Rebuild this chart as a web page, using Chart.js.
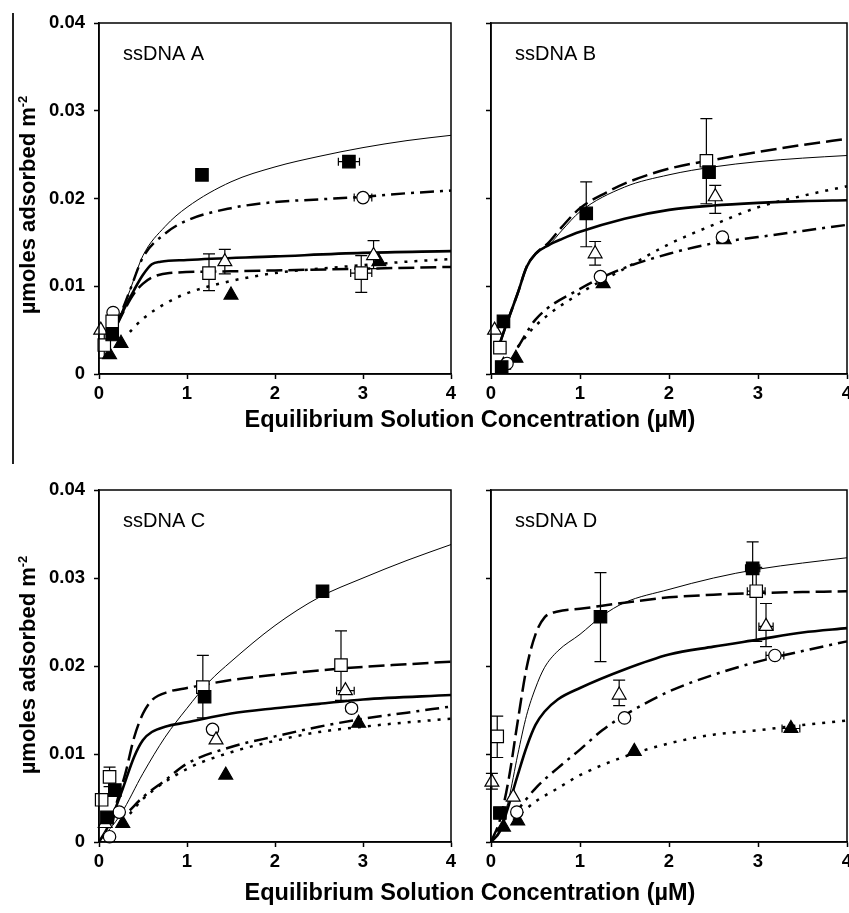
<!DOCTYPE html>
<html lang="en">
<head>
<meta charset="UTF-8">
<title>ssDNA adsorption isotherms</title>
<script src="https://cdn.jsdelivr.net/npm/chart.js"></script>
<style>
  html, body { margin: 0; padding: 0; background: #fff; overflow: hidden; }
  #page { position: relative; width: 849px; height: 913px; overflow: hidden;
          font-family: "Liberation Sans", Arial, sans-serif; color: #000; }
  canvas { position: absolute; }
  .xtitle { position: absolute; left: 0; width: 940px; text-align: center;
            font-weight: bold; font-size: 23.5px; line-height: 26px; }
  .ytitle { position: absolute; white-space: nowrap; font-weight: bold; font-size: 22px;
            transform: translate(-50%, -50%) rotate(-90deg); }
  .ytitle sup { font-size: 13px; }
  #edge { position: absolute; left: 12px; top: 13px; width: 1.5px; height: 451px; background: #222; }
</style>
</head>
<body>
<div id="page">
  <canvas id="chartA" width="470" height="450" style="left:0;top:0"></canvas>
  <canvas id="chartB" width="395" height="450" style="left:470px;top:0"></canvas>
  <canvas id="chartC" width="470" height="453" style="left:0;top:460px"></canvas>
  <canvas id="chartD" width="395" height="453" style="left:470px;top:460px"></canvas>
  <div id="edge"></div>
  <div class="ytitle" style="left:28px;top:205px">µmoles adsorbed m<sup>-2</sup></div>
  <div class="ytitle" style="left:28px;top:665px">µmoles adsorbed m<sup>-2</sup></div>
  <div class="xtitle" style="top:406px">Equilibrium Solution Concentration (µM)</div>
  <div class="xtitle" style="top:879px">Equilibrium Solution Concentration (µM)</div>
</div>
<script>
// ----- ssDNA A : measured points (lo/hi = y error, xe = x error) -----
const aFilledSq  = [{x:0.15,y:0.0045},{x:1.17,y:0.0227},{x:2.84,y:0.0242,xe:0.12}];
const aOpenSq    = [{x:0.06,y:0.0033,lo:0.0018,hi:0.0048},{x:0.15,y:0.0060},{x:1.25,y:0.0115,lo:0.0095,hi:0.0137},{x:2.98,y:0.0115,lo:0.0093,hi:0.0135,xe:0.12}];
const aOpenTri   = [{x:0.02,y:0.0050},{x:1.43,y:0.0128,lo:0.0114,hi:0.0142},{x:3.12,y:0.0135,lo:0.0120,hi:0.0152}];
const aFilledTri = [{x:0.12,y:0.0022},{x:0.25,y:0.0035},{x:1.5,y:0.0090},{x:3.18,y:0.0128}];
const aCircle    = [{x:0.16,y:0.0070},{x:3.0,y:0.0201,xe:0.1}];
// fitted curves
const aThin     = [[0.15,0.0045],[0.25,0.0069],[0.35,0.0095],[0.5,0.0135],[0.75,0.0168],[1,0.0190],[1.5,0.0219],[2,0.0236],[2.5,0.0248],[3,0.0258],[3.5,0.0266],[4,0.0272]];
const aThick    = [[0.15,0.0045],[0.3,0.0077],[0.4,0.0096],[0.5,0.0113],[0.6,0.0125],[0.7,0.0128],[1,0.0130],[2,0.0134],[3,0.0138],[4,0.0140]];
const aLongDash = [[0.2,0.0055],[0.3,0.0075],[0.4,0.0092],[0.5,0.0103],[0.6,0.0110],[0.8,0.0115],[1.5,0.0117],[2,0.0118],[3,0.0120],[4,0.0122]];
const aDashDot  = [[0.15,0.0045],[0.25,0.0069],[0.35,0.0095],[0.5,0.0133],[0.75,0.0160],[1,0.0175],[1.5,0.0189],[2,0.0196],[2.5,0.0199],[3,0.0202],[3.5,0.0206],[4,0.0209]];
const aDotted   = [[0.35,0.0048],[0.5,0.0063],[0.75,0.0080],[1,0.0092],[1.5,0.0106],[2,0.0115],[2.5,0.0120],[3,0.0124],[3.5,0.0128],[4,0.0131]];

// ----- ssDNA B -----
const bFilledSq  = [{x:0.14,y:0.0060},{x:0.12,y:0.0008},{x:1.07,y:0.0183,lo:0.0145,hi:0.0219},{x:2.45,y:0.0230}];
const bOpenSq    = [{x:0.1,y:0.0030},{x:2.42,y:0.0243,lo:0.0194,hi:0.0291}];
const bOpenTri   = [{x:0.04,y:0.0050},{x:1.17,y:0.0137,lo:0.0124,hi:0.0151},{x:2.52,y:0.0202,lo:0.0183,hi:0.0215}];
const bFilledTri = [{x:0.14,y:0.0010},{x:0.28,y:0.0018},{x:1.26,y:0.0103},{x:2.62,y:0.0153}];
const bCircle    = [{x:0.18,y:0.0012},{x:1.23,y:0.0111},{x:2.6,y:0.0156}];
const bThin     = [[0.1,0.0035],[0.15,0.0050],[0.3,0.0092],[0.4,0.0122],[0.5,0.0137],[0.65,0.0147],[0.8,0.0164],[1,0.0185],[1.5,0.0213],[2,0.0227],[2.5,0.0236],[3,0.0242],[3.5,0.0246],[4,0.0249]];
const bThick    = [[0.1,0.0035],[0.15,0.0050],[0.3,0.0092],[0.4,0.0122],[0.5,0.0137],[0.65,0.0147],[0.8,0.0154],[1,0.0162],[1.5,0.0177],[2,0.0187],[2.5,0.0192],[3,0.0195],[3.5,0.0197],[4,0.0198]];
const bLongDash = [[0.1,0.0035],[0.15,0.0050],[0.3,0.0092],[0.4,0.0122],[0.5,0.0137],[0.65,0.0150],[0.8,0.0168],[1,0.0189],[1.3,0.0207],[1.5,0.0217],[2,0.0234],[2.5,0.0244],[3,0.0253],[3.5,0.0261],[4,0.0268]];
const bDashDot  = [[0.3,0.0030],[0.5,0.0062],[1,0.0097],[1.5,0.0121],[2,0.0137],[2.5,0.0149],[3,0.0156],[3.5,0.0163],[4,0.0170]];
const bDotted   = [[0.3,0.0031],[0.5,0.0055],[1,0.0092],[1.5,0.0120],[2,0.0148],[2.5,0.0170],[3,0.0190],[3.5,0.0203],[4,0.0214]];

// ----- ssDNA C -----
const cFilledSq  = [{x:0.09,y:0.0028},{x:0.18,y:0.0059},{x:1.2,y:0.0165},{x:2.54,y:0.0285,xe:0.05}];
const cOpenSq    = [{x:0.03,y:0.0048},{x:0.12,y:0.0074,lo:0.0063,hi:0.0085},{x:1.18,y:0.0176,lo:0.0141,hi:0.0212},{x:2.75,y:0.0201,lo:0.0161,hi:0.0240}];
const cOpenTri   = [{x:0.07,y:0.0021},{x:1.33,y:0.0116},{x:2.8,y:0.0172,xe:0.1}];
const cFilledTri = [{x:0.27,y:0.0021},{x:1.44,y:0.0076},{x:2.95,y:0.0135}];
const cCircle    = [{x:0.12,y:0.0006},{x:0.23,y:0.0034},{x:1.29,y:0.0128},{x:2.87,y:0.0152,xe:0.06}];
const cThin     = [[0,0],[0.25,0.0032],[0.5,0.0078],[0.75,0.0119],[1,0.0152],[1.25,0.0182],[1.5,0.0205],[2,0.0246],[2.5,0.0278],[3,0.0300],[3.5,0.0320],[4,0.0338]];
const cThick    = [[0,0],[0.1,0.0017],[0.25,0.0055],[0.4,0.0097],[0.5,0.0116],[0.6,0.0125],[0.75,0.0131],[1,0.0136],[1.5,0.0146],[2,0.0152],[2.5,0.0157],[3,0.0162],[4,0.0167]];
const cLongDash = [[0.15,0.0020],[0.2,0.0044],[0.3,0.0078],[0.4,0.0119],[0.5,0.0146],[0.6,0.0161],[0.8,0.0171],[1,0.0175],[1.5,0.0184],[2,0.0190],[2.5,0.0195],[3,0.0199],[3.5,0.0202],[4,0.0205]];
const cDashDot  = [[0.35,0.0036],[0.5,0.0051],[0.75,0.0070],[1,0.0089],[1.5,0.0108],[2,0.0120],[2.5,0.0131],[3,0.0140],[3.5,0.0147],[4,0.0154]];
const cDotted   = [[0.35,0.0032],[0.5,0.0049],[1,0.0083],[1.5,0.0102],[2,0.0115],[2.5,0.0125],[3,0.0131],[3.5,0.0136],[4,0.0140]];

// ----- ssDNA D -----
const dFilledSq  = [{x:0.1,y:0.0033},{x:1.23,y:0.0256,lo:0.0205,hi:0.0306},{x:2.94,y:0.0311,lo:0.0281,hi:0.0341,xe:0.08}];
const dOpenSq    = [{x:0.07,y:0.0120,lo:0.0096,hi:0.0143},{x:2.98,y:0.0285,lo:0.0228,hi:0.0312,xe:0.1}];
const dOpenTri   = [{x:0.01,y:0.0068,lo:0.0060,hi:0.0078},{x:0.25,y:0.0051},{x:1.44,y:0.0167,lo:0.0155,hi:0.0184},{x:3.09,y:0.0245,lo:0.0222,hi:0.0271,xe:0.08}];
const dFilledTri = [{x:0.14,y:0.0017},{x:0.3,y:0.0024},{x:1.61,y:0.0103},{x:3.37,y:0.0129,xe:0.1}];
const dCircle    = [{x:0.29,y:0.0034},{x:1.5,y:0.0141},{x:3.19,y:0.0212,xe:0.1}];
const dThin     = [[0,0],[0.1,0.0015],[0.2,0.0049],[0.3,0.0099],[0.4,0.0144],[0.5,0.0175],[0.6,0.0198],[0.75,0.0217],[1,0.0236],[1.25,0.0257],[1.5,0.0272],[2,0.0287],[2.5,0.0300],[3,0.0310],[3.5,0.0317],[4,0.0323]];
const dThick    = [[0,0],[0.1,0.0012],[0.2,0.0042],[0.3,0.0076],[0.4,0.0108],[0.5,0.0133],[0.6,0.0148],[0.75,0.0162],[1,0.0175],[1.5,0.0196],[2,0.0213],[2.5,0.0222],[3,0.0230],[3.5,0.0238],[4,0.0243]];
const dLongDash = [[0,0],[0.1,0.0025],[0.2,0.0072],[0.3,0.0137],[0.4,0.0198],[0.5,0.0236],[0.6,0.0255],[0.75,0.0262],[1,0.0265],[1.5,0.0272],[2,0.0278],[2.5,0.0281],[3,0.0283],[3.5,0.0284],[4,0.0285]];
const dDashDot  = [[0.25,0.0030],[0.5,0.0061],[0.75,0.0084],[1,0.0105],[1.25,0.0127],[1.5,0.0144],[2,0.0171],[2.5,0.0190],[3,0.0205],[3.5,0.0217],[4,0.0228]];
const dDotted   = [[0.25,0.0025],[0.5,0.0046],[0.75,0.0061],[1,0.0076],[1.5,0.0097],[2,0.0112],[2.5,0.0122],[3,0.0127],[3.5,0.0133],[4,0.0138]];

const xTicks = [0, 1, 2, 3, 4];
const yTicks = [0, 0.01, 0.02, 0.03, 0.04];

Chart.defaults.font.family = '"Liberation Sans", Arial, sans-serif';
Chart.defaults.color = '#000';

// line looks of the five fits
const lineStyles = {
  thin:     { borderWidth: 1 },
  thick:    { borderWidth: 2.6 },
  longDash: { borderWidth: 2.5, borderDash: [16, 6] },
  dashDot:  { borderWidth: 2.5, borderDash: [14, 6, 3, 6] },
  dotted:   { borderWidth: 2.5, borderDash: [3, 7] }
};
const markerStyles = {
  filledSq:  { pointStyle: 'rect', pointRadius: 8.8, backgroundColor: '#000' },
  openSq:    { pointStyle: 'rect', pointRadius: 8.8, backgroundColor: '#fff' },
  openTri:   { pointStyle: 'triangle', pointRadius: 8, backgroundColor: '#fff' },
  filledTri: { pointStyle: 'triangle', pointRadius: 8, backgroundColor: '#000' },
  circle:    { pointStyle: 'circle', pointRadius: 6.2, backgroundColor: '#fff' }
};

function curve(pts, style) {
  return Object.assign({
    type: 'line', data: pts.map(p => ({ x: p[0], y: p[1] })),
    borderColor: '#000', pointRadius: 0, fill: false, clip: false,
    cubicInterpolationMode: 'monotone', order: 1
  }, style);
}
function markers(pts, style) {
  return Object.assign({
    type: 'scatter', data: pts, borderColor: '#000', borderWidth: 1.2,
    pointBorderColor: '#000', pointBorderWidth: 1.2, clip: false, order: 0
  }, style, { pointBackgroundColor: style.backgroundColor });
}

// error bars, drawn under the symbols
const errorBars = {
  id: 'errorBars',
  beforeDatasetsDraw(chart) {
    const { ctx, scales: { x, y } } = chart;
    ctx.save();
    ctx.strokeStyle = '#000';
    ctx.lineWidth = 1.2;
    chart.data.datasets.forEach(ds => {
      if (ds.type !== 'scatter') return;
      ds.data.forEach(p => {
        const px = x.getPixelForValue(p.x), py = y.getPixelForValue(p.y);
        ctx.beginPath();
        if (p.lo !== undefined) {
          const y1 = y.getPixelForValue(p.lo), y2 = y.getPixelForValue(p.hi);
          ctx.moveTo(px, y1); ctx.lineTo(px, y2);
          ctx.moveTo(px - 6, y1); ctx.lineTo(px + 6, y1);
          ctx.moveTo(px - 6, y2); ctx.lineTo(px + 6, y2);
        }
        if (p.xe) {
          const x1 = x.getPixelForValue(p.x - p.xe), x2 = x.getPixelForValue(p.x + p.xe);
          ctx.moveTo(x1, py); ctx.lineTo(x2, py);
          ctx.moveTo(x1, py - 4); ctx.lineTo(x1, py + 4);
          ctx.moveTo(x2, py - 4); ctx.lineTo(x2, py + 4);
        }
        ctx.stroke();
      });
    });
    ctx.restore();
  }
};

// box round the plot and the panel name
const frame = {
  id: 'frame',
  afterDraw(chart, args, opts) {
    const { ctx, chartArea: a } = chart;
    ctx.save();
    ctx.strokeStyle = '#000';
    ctx.lineWidth = 1.5;
    ctx.strokeRect(a.left, a.top, a.right - a.left, a.bottom - a.top);
    ctx.font = '20px "Liberation Sans", Arial, sans-serif';
    ctx.fillStyle = '#000';
    ctx.textBaseline = 'middle';
    ctx.fillText(opts.text, a.left + 24, a.top + 31);
    ctx.restore();
  }
};

function panel(id, label, leftSide, padTop, padBottom, s) {
  new Chart(document.getElementById(id), {
    data: {
      datasets: [
        markers(s.filledSq, markerStyles.filledSq),
        markers(s.openSq, markerStyles.openSq),
        markers(s.openTri, markerStyles.openTri),
        markers(s.circle, markerStyles.circle),
        markers(s.filledTri, markerStyles.filledTri),
        curve(s.thin, lineStyles.thin),
        curve(s.thick, lineStyles.thick),
        curve(s.longDash, lineStyles.longDash),
        curve(s.dashDot, lineStyles.dashDot),
        curve(s.dotted, lineStyles.dotted)
      ]
    },
    options: {
      responsive: false,
      animation: false,
      events: [],
      layout: { padding: { left: 0, top: padTop, right: leftSide ? 19 : 18, bottom: padBottom } },
      plugins: { legend: { display: false }, tooltip: { enabled: false }, frame: { text: label } },
      scales: {
        x: {
          type: 'linear', min: 0, max: 4,
          afterBuildTicks: sc => { sc.ticks = xTicks.map(v => ({ value: v })); },
          ticks: { font: { size: 18.5, weight: 'bold' }, padding: 4, maxRotation: 0 },
          grid: { drawOnChartArea: false, tickLength: 5, tickColor: '#000', tickWidth: 1.5 },
          border: { color: '#000', width: 1.5 },
          afterFit: sc => { sc.height = 40; }
        },
        y: {
          type: 'linear', min: 0, max: 0.04,
          afterBuildTicks: sc => { sc.ticks = yTicks.map(v => ({ value: v })); },
          ticks: {
            font: { size: 18.5, weight: 'bold' }, padding: 9,
            callback: v => leftSide ? (v === 0 ? '0' : v.toFixed(2)) : ''
          },
          grid: { drawOnChartArea: false, tickLength: 5, tickColor: '#000', tickWidth: 1.5 },
          border: { color: '#000', width: 1.5 },
          afterFit: sc => { sc.width = leftSide ? 99 : 21; }
        }
      }
    },
    plugins: [errorBars, frame]
  });
}

panel('chartA', 'ssDNA A', true, 23, 36, {
  filledSq: aFilledSq, openSq: aOpenSq, openTri: aOpenTri, filledTri: aFilledTri, circle: aCircle,
  thin: aThin, thick: aThick, longDash: aLongDash, dashDot: aDashDot, dotted: aDotted });
panel('chartB', 'ssDNA B', false, 23, 36, {
  filledSq: bFilledSq, openSq: bOpenSq, openTri: bOpenTri, filledTri: bFilledTri, circle: bCircle,
  thin: bThin, thick: bThick, longDash: bLongDash, dashDot: bDashDot, dotted: bDotted });
panel('chartC', 'ssDNA C', true, 30, 31, {
  filledSq: cFilledSq, openSq: cOpenSq, openTri: cOpenTri, filledTri: cFilledTri, circle: cCircle,
  thin: cThin, thick: cThick, longDash: cLongDash, dashDot: cDashDot, dotted: cDotted });
panel('chartD', 'ssDNA D', false, 30, 31, {
  filledSq: dFilledSq, openSq: dOpenSq, openTri: dOpenTri, filledTri: dFilledTri, circle: dCircle,
  thin: dThin, thick: dThick, longDash: dLongDash, dashDot: dDashDot, dotted: dDotted });
</script>
</body>
</html>
